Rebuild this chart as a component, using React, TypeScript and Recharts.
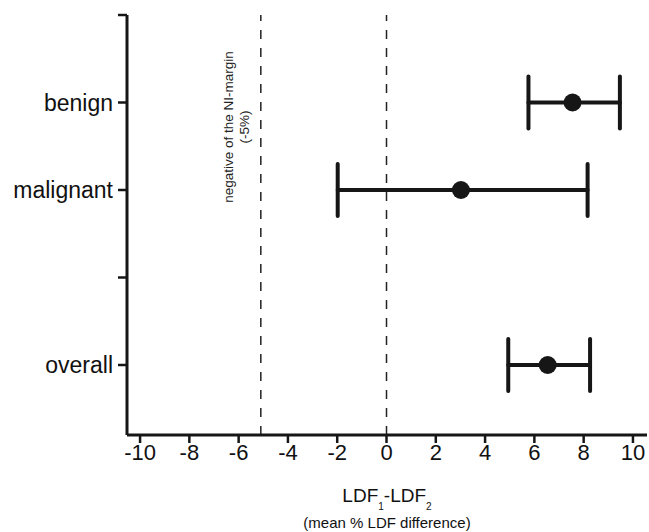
import {
  ScatterChart,
  Scatter,
  XAxis,
  YAxis,
  ErrorBar,
  ReferenceLine,
} from "recharts";

// rows of the forest plot (y position on a numeric axis)
const groups = ["benign", "malignant", "overall"];
const groupPos = [4, 3, 1];
const means = [7.55, 3.02, 6.54];
const lower = [5.76, -1.98, 4.94];
const upper = [9.47, 8.16, 8.26];

const yTicks = [1, 2, 3, 4, 5];
const yTickLabels = ["overall", "", "malignant", "benign", ""];
const xTicks = [-10, -8, -6, -4, -2, 0, 2, 4, 6, 8, 10];

const niMargin = -5.1;
const noDiff = 0;

const INK = "#161616";
const FONT = "'Liberation Sans', Arial, sans-serif";

const chartData = groups.map((g, i) => ({
  name: g,
  x: means[i],
  y: groupPos[i],
  err: [means[i] - lower[i], upper[i] - means[i]],
}));

// eslint-disable-next-line @typescript-eslint/no-explicit-any
const Dot = (props: any) => (
  <circle cx={props.cx} cy={props.cy} r={9} fill={INK} />
);

// eslint-disable-next-line @typescript-eslint/no-explicit-any
const MarginLabel = (props: any) => {
  const { x, y } = props.viewBox;
  const cy = y + 112;
  return (
    <g fontFamily={FONT} fontSize={13.5} fill="#222">
      <text
        x={x - 28}
        y={cy}
        textAnchor="middle"
        transform={`rotate(-90 ${x - 28} ${cy})`}
      >
        negative of the NI-margin
      </text>
      <text
        x={x - 12}
        y={cy}
        textAnchor="middle"
        transform={`rotate(-90 ${x - 12} ${cy})`}
      >
        (-5%)
      </text>
    </g>
  );
};

// eslint-disable-next-line @typescript-eslint/no-explicit-any
const XLabel = (props: any) => {
  const { x, y, width } = props.viewBox;
  const cx = x + width / 2;
  return (
    <g fontFamily={FONT} fill="#111">
      <text x={cx} y={y + 67} textAnchor="middle" fontSize={19}>
        LDF
        <tspan fontSize={10} dy={8}>1</tspan>
        <tspan dy={-8}>-LDF</tspan>
        <tspan fontSize={10} dy={8}>2</tspan>
      </text>
      <text x={cx} y={y + 93} textAnchor="middle" fontSize={15}>
        (mean % LDF difference)
      </text>
    </g>
  );
};

export default function App() {
  return (
    <div style={{ position: "absolute", left: 0, top: 0, background: "#fff" }}>
      <ScatterChart
        width={649}
        height={532}
        margin={{ top: 15, right: 2, bottom: 0, left: 0 }}
      >
        <XAxis
          type="number"
          dataKey="x"
          domain={[-10.53, 10.57]}
          ticks={xTicks}
          allowDataOverflow
          height={97}
          axisLine={{ stroke: INK, strokeWidth: 3 }}
          tickLine={{ stroke: INK, strokeWidth: 2.5 }}
          tickSize={8}
          tickMargin={1}
          tick={{ fontSize: 22, fill: "#111", fontFamily: FONT }}
          label={<XLabel />}
        />
        <YAxis
          type="number"
          dataKey="y"
          domain={[0.2, 5]}
          ticks={yTicks}
          allowDataOverflow
          width={127}
          axisLine={{ stroke: INK, strokeWidth: 3 }}
          tickLine={{ stroke: INK, strokeWidth: 2.5 }}
          tickSize={9}
          tickMargin={5}
          tickFormatter={(v: number) => yTickLabels[yTicks.indexOf(v)] ?? ""}
          tick={{ fontSize: 23, fill: "#111", fontFamily: FONT }}
        />
        <ReferenceLine
          x={niMargin}
          stroke="#222"
          strokeWidth={1.5}
          strokeDasharray="9 9"
          label={<MarginLabel />}
        />
        <ReferenceLine
          x={noDiff}
          stroke="#222"
          strokeWidth={1.5}
          strokeDasharray="9 9"
        />
        <Scatter data={chartData} shape={<Dot />} isAnimationActive={false}>
          <ErrorBar
            dataKey="err"
            direction="x"
            width={26}
            stroke={INK}
            strokeWidth={4}
            strokeLinecap="round"
          />
        </Scatter>
      </ScatterChart>
    </div>
  );
}
